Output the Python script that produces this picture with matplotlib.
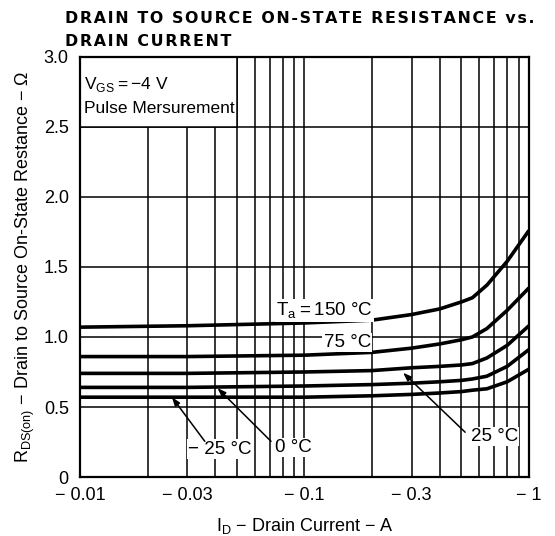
import matplotlib
matplotlib.use('Agg')
import matplotlib.pyplot as plt
from matplotlib.patches import Rectangle
import numpy as np

plt.rcParams['font.family'] = ['Liberation Sans', 'DejaVu Sans']
plt.rcParams['mathtext.fontset'] = 'custom'
plt.rcParams['mathtext.rm'] = 'Liberation Sans'

# drain current (A, magnitude) and RDS(on)
id_a = [0.01, 0.03, 0.1, 0.2, 0.3, 0.4, 0.5, 0.56, 0.65, 0.8, 1.0]
r_150 = [1.07, 1.08, 1.10, 1.12, 1.16, 1.20, 1.25, 1.28, 1.37, 1.54, 1.76]
r_75 = [0.86, 0.86, 0.87, 0.89, 0.92, 0.95, 0.98, 1.00, 1.06, 1.19, 1.35]
r_25 = [0.74, 0.74, 0.75, 0.76, 0.78, 0.79, 0.80, 0.81, 0.85, 0.94, 1.08]
r_0 = [0.64, 0.64, 0.65, 0.66, 0.67, 0.68, 0.69, 0.70, 0.72, 0.79, 0.91]
r_m25 = [0.57, 0.57, 0.57, 0.58, 0.59, 0.60, 0.61, 0.62, 0.63, 0.68, 0.77]
curves = [r_150, r_75, r_25, r_0, r_m25]

xticks = [0.01, 0.03, 0.1, 0.3, 1]
xtick_labels = ['\u2212 0.01', '\u2212 0.03', '\u2212 0.1', '\u2212 0.3', '\u2212 1']
yticks = [0, 0.5, 1.0, 1.5, 2.0, 2.5, 3.0]
ytick_labels = ['0', '0.5', '1.0', '1.5', '2.0', '2.5', '3.0']

title1 = 'DRAIN TO SOURCE ON-STATE RESISTANCE vs.'
title2 = 'DRAIN CURRENT'

fig = plt.figure(figsize=(5.55, 5.36), dpi=100)
ax = fig.add_axes([0.144, 0.110, 0.809, 0.784])

ax.set_xscale('log')
ax.set_xlim(0.01, 1)
ax.set_ylim(0, 3.0)
ax.set_axisbelow(True)

minor = [k * 10.0**e for e in (-2, -1) for k in range(2, 10)]
ax.set_xticks(xticks)
ax.set_xticklabels(xtick_labels)
ax.set_xticks(minor, minor=True)
ax.set_xticklabels([], minor=True)
ax.set_yticks(yticks)
ax.set_yticklabels(ytick_labels)
ax.tick_params(which='both', length=0, labelsize=13)
ax.tick_params(axis='y', pad=8)
ax.tick_params(axis='x', pad=7)
ax.grid(True, which='both', color='black', lw=1.1)
for s in ax.spines.values():
    s.set_linewidth(1.6)

# white box with the condition text (covers grid)
ax.add_patch(Rectangle((0.01, 2.5), 0.04, 0.5, facecolor='white',
                       edgecolor='black', lw=1.1, zorder=1))
ax.text(0.0104, 2.8, r'V$_{\mathregular{GS}}$$=-$4 V', fontsize=12.5, va='center')
ax.text(0.0104, 2.63, 'Pulse Mersurement', fontsize=12.5, va='center')

for r in curves:
    ax.plot(id_a, r, color='black', lw=2.6, zorder=2, solid_capstyle='butt')

lab = 13.5
box = dict(facecolor='white', edgecolor='none', pad=1)
ax.text(0.123, 1.19, r'T$_{\mathregular{a}}$$=$150 $\degree$C', fontsize=lab,
        ha='center', va='center', bbox=box, zorder=3)
ax.text(0.155, 0.96, '75 \u00b0C', fontsize=lab, ha='center', va='center',
        bbox=box, zorder=3)
ax.text(0.70, 0.29, '25 \u00b0C', fontsize=lab, ha='center', va='center',
        bbox=box, zorder=3)
ax.text(0.089, 0.21, '0 \u00b0C', fontsize=lab, ha='center', va='center',
        bbox=box, zorder=3)
ax.text(0.042, 0.20, '\u2212 25 \u00b0C', fontsize=lab, ha='center', va='center',
        bbox=box, zorder=3)

arrow = dict(arrowstyle='-|>,head_length=0.5,head_width=0.18', color='black',
             lw=1.1, shrinkA=0, shrinkB=0)
ax.annotate('', xy=(0.0257, 0.57), xytext=(0.036, 0.255), arrowprops=arrow, zorder=4)
ax.annotate('', xy=(0.041, 0.635), xytext=(0.071, 0.255), arrowprops=arrow, zorder=4)
ax.annotate('', xy=(0.275, 0.745), xytext=(0.52, 0.32), arrowprops=arrow, zorder=4)

ax.set_ylabel(r'R$_{\mathregular{DS(on)}}$ $-$ Drain to Source On-State Restance $-$ $\Omega$',
              fontsize=13, labelpad=5)
ax.set_xlabel(r'I$_{\mathregular{D}}$ $-$ Drain Current $-$ A', fontsize=13, labelpad=9)

# letter-spaced title
spaced = lambda s: '\u200a'.join(s)
fig.text(0.117, 0.965, spaced(title1), fontsize=11.4, fontweight='bold',
         family=['DejaVu Sans', 'Liberation Sans'], va='center', ha='left')
fig.text(0.117, 0.923, spaced(title2), fontsize=11.4, fontweight='bold',
         family=['DejaVu Sans', 'Liberation Sans'], va='center', ha='left')

fig.savefig('out.png', dpi=100)
